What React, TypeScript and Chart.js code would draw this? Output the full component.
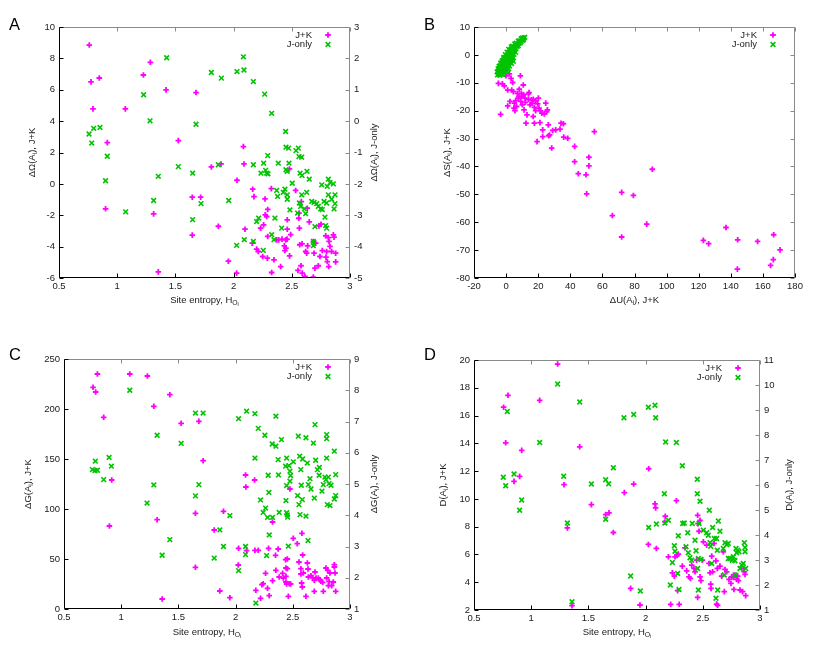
import { useEffect, useRef } from "react";
import { Chart, registerables } from "chart.js";
Chart.register(...registerables);

type P = [number, number];
type Part = [string, number];

const seriesNames = ["J+K", "J-only"];
const FONT = "'Liberation Sans', Arial, sans-serif";
const MAGENTA = "#ff00ff";
const GREEN = "#00c400";

// ---------- Panel A: ΔΩ vs site entropy ----------
const aJK: P[] = [
  [0.76, 8.85], [0.775, 6.5], [0.846, 6.75], [0.792, 4.78], [0.915, 2.63], [0.9, -1.59], [1.07, 4.78],
  [1.225, 6.94], [1.285, 7.75], [1.42, 5.99], [1.313, -1.91], [1.525, 2.76], [1.677, 5.82], [1.645, -0.85],
  [1.717, -0.85], [1.645, -3.27], [1.353, -5.61], [1.809, 1.08], [1.892, 1.27], [1.869, -2.7], [1.955, -4.93],
  [2.029, 0.23], [2.026, -5.69], [2.084, 2.38], [2.089, 1.27], [2.098, -2.89], [2.164, -0.34], [2.175, -0.81],
  [2.161, -3.78], [2.198, -4.16], [2.212, -4.31], [2.232, -2.82], [2.258, -2.61], [2.27, -0.96], [2.272, -1.97],
  [2.284, -2.08], [2.293, -1.63], [2.293, -3.35], [2.25, -4.63], [2.29, -4.73], [2.324, -0.3], [2.327, -5.65],
  [2.347, -4.84], [2.37, -3.57], [2.387, -3.57], [2.416, -3.52], [2.404, -5.27], [2.447, -3.57], [2.459, -3.52],
  [2.436, -3.95], [2.45, -4.1], [2.441, -4.25], [2.461, -2.89], [2.461, -2.29], [2.481, -4.59], [2.49, -3.23],
  [2.533, -0.42], [2.48, 0.95], [2.553, -5.52], [2.562, -1.87], [2.56, -2.19], [2.565, -2.82], [2.568, -3.88],
  [2.579, -5.22], [2.59, -5.69], [2.582, -1.13], [2.588, -3.82], [2.613, -5.9], [2.619, -4.31], [2.628, -4.42],
  [2.636, -3.95], [2.633, -1.55], [2.65, -2.42], [2.685, -3.67], [2.691, -4.42], [2.699, -5.37], [2.685, -5.94],
  [2.705, -3.78], [2.728, -5.22], [2.733, -2.68], [2.742, -4.63], [2.751, -2.57], [2.762, -4.25], [2.791, -3.31],
  [2.794, -4.67], [2.799, -4.31], [2.805, -4.95], [2.817, -5.27], [2.814, -3.42], [2.82, -3.67], [2.828, -3.99],
  [2.842, -4.31], [2.857, -3.25], [2.863, -3.4], [2.877, -4.42], [2.877, -4.97],
];
const aJ: P[] = [
  [0.758, -0.41], [0.781, -0.7], [0.798, -0.23], [0.852, -0.2], [0.9, -1.9], [0.915, -1.12], [1.073, -2.89],
  [1.227, 0.84], [1.282, 0.01], [1.313, -2.53], [1.353, -1.76], [1.425, 2.02], [1.525, -1.45], [1.648, -1.66],
  [1.648, -3.14], [1.677, -0.1], [1.72, -2.63], [1.809, 1.55], [1.869, -1.39], [1.895, 1.37], [1.958, -2.53],
  [2.029, 1.58], [2.026, -3.96], [2.084, 2.05], [2.089, 1.63], [2.092, -3.78], [2.17, 1.26], [2.17, -1.39],
  [2.17, -3.83], [2.198, -3.2], [2.215, -3.09], [2.235, -1.66], [2.267, 0.86], [2.258, -1.34], [2.255, -4.12],
  [2.275, -1.57], [2.284, -1.66], [2.293, -1.1], [2.296, -1.68], [2.327, 0.25], [2.327, -3.62], [2.347, -3.78],
  [2.355, -3.09], [2.37, -2.21], [2.378, -2.4], [2.384, -1.34], [2.413, -3.41], [2.427, -2.27], [2.441, -2.17],
  [2.447, -0.33], [2.45, -0.83], [2.45, -1.55], [2.461, -1.6], [2.461, -2.49], [2.473, -0.86], [2.476, -1.34],
  [2.461, -2.35], [2.484, -2.83], [2.504, -1.98], [2.536, -0.94], [2.556, -0.86], [2.562, -1.13], [2.571, -1.66],
  [2.585, -1.15], [2.55, -2.93], [2.565, -2.61], [2.585, -2.35], [2.576, -2.72], [2.588, -1.73], [2.608, -2.8],
  [2.619, -2.95], [2.628, -2.27], [2.63, -1.6], [2.65, -1.85], [2.671, -2.56], [2.691, -2.59], [2.699, -3.36],
  [2.685, -3.83], [2.685, -3.97], [2.714, -2.63], [2.728, -2.72], [2.748, -2.8], [2.757, -2.03], [2.762, -2.82],
  [2.777, -2.56], [2.785, -3.06], [2.791, -3.33], [2.799, -3.41], [2.805, -2.08], [2.814, -1.85], [2.814, -2.35],
  [2.828, -1.96], [2.842, -2.49], [2.857, -2.0], [2.871, -2.35], [2.863, -2.8], [2.871, -2.63], [2.799, -2.61],
];

// ---------- Panel B: ΔS vs ΔU ----------
const bJK: P[] = [
  [-4.8, -10.2], [-3.4, -21.3], [-2.3, -10.4], [-1.1, -11.1], [-0.1, -7.5], [1.0, -12.6], [2.0, -6.8], [3.1, -8.4],
  [1.0, -18.3], [2.4, -16.7], [3.5, -12.6], [4.1, -9.9], [4.5, -13.2], [4.9, -19.1], [5.5, -20.0], [5.1, -17.3],
  [6.0, -16.4], [7.0, -13.8], [7.6, -15.5], [8.2, -12.3], [8.9, -7.5], [9.1, -16.7], [9.5, -13.8], [9.7, -14.9],
  [10.1, -17.9], [10.7, -10.8], [10.9, -14.3], [11.2, -19.7], [11.8, -15.5], [12.4, -24.5], [13.0, -21.5],
  [13.9, -14.0], [14.3, -13.5], [14.9, -17.9], [15.7, -16.1], [16.3, -17.3], [16.9, -15.9], [16.9, -22.1],
  [17.6, -18.8], [17.6, -24.5], [18.4, -20.0], [19.3, -31.1], [19.7, -17.6], [20.1, -15.5], [20.5, -19.1],
  [21.1, -24.3], [21.5, -20.1], [22.2, -20.9], [22.8, -26.9], [22.8, -29.3], [23.8, -21.2], [24.7, -17.3],
  [25.3, -20.3], [25.7, -19.7], [26.3, -25.1], [26.5, -29.0], [27.1, -28.7], [28.4, -33.4], [29.0, -27.1],
  [30.9, -26.9], [33.6, -26.6], [34.2, -24.5], [35.7, -24.7], [35.9, -29.5], [38.4, -29.9], [42.7, -32.8],
  [42.7, -38.3], [45.0, -42.6], [49.8, -43.0], [50.2, -49.8], [51.6, -36.7], [51.6, -39.8], [55.0, -27.5],
  [66.2, -57.6], [72.0, -49.3], [72.0, -65.3], [79.3, -50.4], [87.6, -60.7], [91.1, -41.0], [122.9, -66.5],
  [126.2, -67.7], [137.0, -61.9], [144.3, -66.3], [144.1, -76.8], [156.7, -66.9], [164.8, -75.5], [166.5, -73.4],
  [166.7, -64.5], [170.7, -69.9], [6.5, -18.5], [12.0, -17.0], [14.0, -16.0], [18.5, -16.5], [8.0, -15.0],
];
const bJ: P[] = [
  [-5.4, -7.2], [-4.6, -7.0], [-3.8, -7.3], [-2.9, -6.9], [-1.8, -7.1],
  [-5.6, -6.1], [-4.9, -5.8], [-4.1, -6.3], [-3.3, -5.9], [-2.4, -6.2], [-1.5, -5.7], [-0.6, -6.0], [0.5, -5.9],
  [-5.0, -5.0], [-4.3, -4.8], [-3.6, -5.2], [-2.7, -4.9], [-1.9, -5.1], [-1.0, -4.7], [-0.2, -5.0], [0.8, -4.8], [1.6, -5.0],
  [-4.4, -4.1], [-3.7, -3.9], [-2.9, -4.2], [-2.1, -3.8], [-1.3, -4.0], [-0.5, -3.7], [0.4, -4.1], [1.2, -3.9], [2.1, -4.0],
  [-3.4, -3.0], [-2.6, -2.8], [-1.8, -3.2], [-1.0, -2.9], [-0.2, -3.1], [0.6, -2.7], [1.5, -3.0], [2.4, -2.8], [3.4, -3.1],
  [-2.5, -2.1], [-1.6, -1.8], [-0.7, -2.2], [0.2, -1.9], [1.0, -2.0], [1.9, -1.7], [2.8, -2.1], [3.8, -1.9], [4.5, -2.3],
  [-1.6, -1.0], [-0.8, -0.8], [0.0, -1.2], [0.9, -0.9], [1.7, -1.1], [2.6, -0.7], [3.5, -1.0], [4.4, -0.9],
  [-0.5, 0.1], [0.4, -0.2], [1.3, 0.2], [2.2, -0.1], [3.1, 0.3], [4.0, 0.0], [4.9, 0.2],
  [0.6, 1.0], [1.5, 0.8], [2.4, 1.2], [3.3, 0.9], [4.2, 1.1], [5.1, 1.3], [5.9, 0.9],
  [1.6, 2.0], [2.5, 1.8], [3.4, 2.2], [4.3, 1.9], [5.2, 2.1], [6.1, 2.3],
  [3.2, 2.9], [4.1, 3.1], [5.0, 2.8], [5.9, 3.2], [6.8, 3.0], [7.6, 3.3],
  [5.4, 3.9], [6.3, 4.2], [7.1, 3.8], [8.0, 4.1], [8.8, 4.3],
  [7.6, 4.9], [8.5, 5.1], [9.3, 4.8], [10.1, 5.2], [10.8, 5.4],
  [9.4, 5.8], [10.2, 6.1], [11.0, 6.0], [11.6, 6.3],
];

// ---------- Panel C: ΔG vs site entropy ----------
const cJK: P[] = [
  [0.754, 221.7], [0.777, 217], [0.792, 235], [0.847, 191.7], [0.917, 129], [0.897, 83], [1.075, 235],
  [1.229, 233], [1.285, 202.7], [1.314, 89.3], [1.425, 214.3], [1.358, 10], [1.524, 185.7], [1.649, 95.7],
  [1.649, 41.7], [1.679, 187.7], [1.716, 148.3], [1.813, 79], [1.862, 18], [1.894, 97.7], [1.95, 11.3],
  [2.026, 60.7], [2.023, 44], [2.087, 134], [2.09, 122], [2.096, 58.3], [2.166, 129], [2.169, 58.7],
  [2.198, 58.7], [2.177, 18.7], [2.218, 10.7], [2.23, 24.3], [2.241, 25.3], [2.262, 35.7], [2.279, 20.7],
  [2.288, 60.7], [2.294, 13.3], [2.323, 87], [2.323, 28.3], [2.349, 53.7], [2.352, 38.7], [2.372, 60],
  [2.381, 32], [2.411, 35.7], [2.417, 31], [2.437, 49.3], [2.44, 41], [2.44, 32.7], [2.44, 27], [2.452, 50],
  [2.452, 40.3], [2.446, 25], [2.461, 12.7], [2.469, 25.3], [2.475, 120], [2.481, 25], [2.504, 70.7],
  [2.539, 65.3], [2.554, 47], [2.571, 40.3], [2.571, 35], [2.577, 26], [2.583, 22], [2.58, 75.7], [2.586, 54],
  [2.592, 36], [2.615, 12.7], [2.627, 46], [2.633, 40], [2.636, 32], [2.659, 33.3], [2.673, 31.3], [2.688, 28.7],
  [2.688, 17.7], [2.694, 37], [2.703, 31], [2.723, 31], [2.737, 29.3], [2.746, 27.7], [2.761, 26.7], [2.767, 17.7],
  [2.79, 41], [2.796, 31], [2.805, 38.7], [2.811, 23.3], [2.817, 27.3], [2.825, 36], [2.84, 23.3], [2.854, 27],
  [2.863, 44.3], [2.863, 42], [2.869, 36], [2.875, 17.7],
];
const cJ: P[] = [
  [0.748, 5.46], [0.771, 5.43], [0.792, 5.44], [0.774, 5.73], [0.847, 5.14], [0.894, 5.85], [0.914, 5.57],
  [1.075, 8.0], [1.226, 4.39], [1.285, 4.97], [1.314, 6.56], [1.358, 2.72], [1.425, 3.22], [1.524, 6.3],
  [1.649, 7.27], [1.649, 4.62], [1.679, 4.98], [1.716, 7.27], [1.813, 2.63], [1.862, 3.53], [1.894, 3.0],
  [1.95, 3.99], [2.026, 7.09], [2.026, 2.23], [2.096, 7.33], [2.087, 3.0], [2.087, 2.74], [2.169, 7.25],
  [2.169, 5.83], [2.177, 1.19], [2.198, 6.78], [2.218, 4.49], [2.241, 4.09], [2.256, 6.56], [2.262, 4.23],
  [2.279, 3.93], [2.285, 5.28], [2.291, 4.73], [2.294, 3.37], [2.271, 2.71], [2.32, 6.28], [2.323, 3.93],
  [2.352, 7.17], [2.352, 6.21], [2.372, 5.78], [2.375, 5.29], [2.381, 4.09], [2.401, 6.42], [2.446, 5.83],
  [2.437, 5.57], [2.446, 4.95], [2.44, 4.47], [2.446, 4.08], [2.452, 4.01], [2.455, 3.94], [2.461, 3.01],
  [2.466, 5.59], [2.475, 5.41], [2.481, 5.27], [2.475, 5.09], [2.504, 5.71], [2.542, 4.63], [2.548, 6.53],
  [2.554, 4.34], [2.563, 4.02], [2.56, 5.89], [2.57, 5.46], [2.574, 4.96], [2.583, 4.5], [2.586, 5.8],
  [2.615, 3.97], [2.615, 6.48], [2.627, 5.67], [2.636, 4.98], [2.633, 3.19], [2.65, 5.17], [2.659, 4.84],
  [2.68, 6.31], [2.688, 4.55], [2.694, 6.9], [2.7, 5.76], [2.715, 5.46], [2.73, 5.28], [2.732, 5.53],
  [2.755, 4.77], [2.767, 4.98], [2.781, 5.22], [2.79, 5.14], [2.796, 6.58], [2.796, 6.45], [2.796, 5.83],
  [2.802, 4.34], [2.811, 5.22], [2.817, 5.01], [2.825, 4.31], [2.834, 4.96], [2.863, 6.05], [2.863, 4.52],
  [2.875, 5.3], [2.875, 4.63],
];

// ---------- Panel D: D vs site entropy ----------
const dJK: P[] = [
  [0.759, 16.6], [0.797, 17.46], [0.777, 14.04], [0.85, 11.26], [0.899, 11.62], [0.917, 13.49], [1.074, 17.1],
  [1.231, 19.71], [1.287, 11.02], [1.316, 7.91], [1.357, 2.31], [1.424, 13.75], [1.526, 9.59], [1.651, 8.87],
  [1.68, 8.99], [1.718, 7.58], [1.814, 10.45], [1.869, 3.56], [1.896, 11.07], [1.951, 2.36], [2.027, 12.17],
  [2.024, 6.72], [2.082, 9.64], [2.088, 9.35], [2.094, 6.43], [2.172, 8.75], [2.169, 8.34], [2.199, 5.83],
  [2.219, 2.41], [2.269, 9.87], [2.234, 4.68], [2.251, 4.44], [2.257, 5.83], [2.274, 5.93], [2.286, 6.02],
  [2.28, 3.39], [2.294, 2.41], [2.321, 5.16], [2.344, 6.48], [2.359, 4.82], [2.379, 4.39], [2.391, 4.27],
  [2.403, 5.23], [2.423, 4.99], [2.432, 4.75], [2.446, 5.59], [2.455, 8.82], [2.458, 8.22], [2.476, 8.46],
  [2.467, 7.67], [2.476, 4.39], [2.484, 4.11], [2.455, 2.91], [2.496, 5.59], [2.505, 6.91], [2.534, 6.67],
  [2.554, 5.35], [2.563, 4.68], [2.569, 3.87], [2.572, 3.56], [2.578, 5.88], [2.586, 4.75], [2.598, 6.79],
  [2.615, 5.54], [2.621, 2.43], [2.63, 2.34], [2.627, 4.99], [2.65, 5.16], [2.665, 4.44], [2.679, 6.19],
  [2.688, 3.32], [2.694, 4.92], [2.709, 4.75], [2.729, 4.2], [2.746, 3.91], [2.752, 4.39], [2.767, 4.35],
  [2.772, 3.48], [2.781, 4.51], [2.796, 4.2], [2.805, 4.44], [2.811, 4.11], [2.825, 3.44], [2.848, 3.32],
  [2.863, 4.75], [2.869, 4.56], [2.875, 3.03], [2.854, 5.0],
];
const dJ: P[] = [
  [0.756, 6.31], [0.777, 5.97], [0.791, 8.94], [0.85, 6.44], [0.917, 5.4], [0.899, 4.99], [1.074, 7.7],
  [1.231, 10.04], [1.284, 6.35], [1.316, 4.48], [1.357, 1.33], [1.424, 9.32], [1.526, 6.04], [1.651, 6.21],
  [1.651, 4.63], [1.677, 6.05], [1.718, 6.69], [1.811, 8.69], [1.869, 2.36], [1.896, 8.82], [1.954, 1.76],
  [2.024, 9.11], [2.027, 4.3], [2.082, 9.19], [2.088, 8.69], [2.094, 4.44], [2.164, 5.65], [2.169, 4.48],
  [2.175, 7.72], [2.199, 4.59], [2.216, 2.0], [2.234, 2.9], [2.251, 3.57], [2.257, 3.35], [2.269, 7.7],
  [2.286, 3.97], [2.28, 2.46], [2.292, 1.82], [2.321, 6.77], [2.324, 4.46], [2.338, 4.48], [2.368, 4.09],
  [2.353, 3.53], [2.373, 3.29], [2.388, 3.09], [2.403, 2.99], [2.408, 4.46], [2.432, 3.79], [2.441, 3.37],
  [2.452, 6.23], [2.452, 5.65], [2.467, 4.46], [2.461, 3.06], [2.455, 2.66], [2.461, 1.8], [2.476, 5.35],
  [2.484, 3.02], [2.505, 4.19], [2.534, 4.09], [2.548, 3.99], [2.557, 4.99], [2.563, 3.69], [2.569, 3.55],
  [2.578, 2.86], [2.586, 4.3], [2.601, 3.86], [2.621, 3.86], [2.627, 3.39], [2.636, 4.56], [2.615, 1.47],
  [2.63, 1.8], [2.65, 4.15], [2.679, 3.46], [2.688, 2.4], [2.694, 3.69], [2.709, 3.62], [2.723, 3.66],
  [2.723, 3.06], [2.738, 3.06], [2.758, 2.99], [2.767, 3.13], [2.781, 2.97], [2.79, 3.46], [2.796, 3.29],
  [2.805, 3.39], [2.816, 3.33], [2.825, 2.66], [2.84, 2.8], [2.854, 2.86], [2.863, 3.69], [2.869, 3.5],
  [2.869, 3.33], [2.875, 2.66], [2.781, 2.4],
];

// ---------- axis ranges / tick steps ----------
const entropyRange = { min: 0.5, max: 3, step: 0.5 };
const aLeft = { min: -6, max: 10, step: 2 };
const aRight = { min: -5, max: 3, step: 1 };
const bX = { min: -20, max: 180, step: 20 };
const bY = { min: -80, max: 10, step: 10 };
const cLeft = { min: 0, max: 250, step: 50 };
const cRight = { min: 1, max: 9, step: 1 };
const dLeft = { min: 2, max: 20, step: 2 };
const dRight = { min: 1, max: 11, step: 1 };

const entropyTitle: Part[] = [["Site entropy, H", 0], ["O", 1], ["i", 2]];

type Range = { min: number; max: number; step: number };
interface PanelCfg {
  letter: string;
  left: number; top: number; w: number; h: number;
  area: { l: number; r: number; t: number; b: number };
  x: Range; y: Range; y2?: Range;
  xTitle: Part[]; yTitle: Part[]; y2Title?: Part[];
  off: { y: number; y2: number; x: number };
  jk: P[]; j: P[];
}

const panels: PanelCfg[] = [
  {
    letter: "A", left: 0, top: 0, w: 415, h: 330,
    area: { l: 59, r: 350, t: 27, b: 278 },
    x: entropyRange, y: aLeft, y2: aRight,
    xTitle: entropyTitle,
    yTitle: [["ΔΩ(A", 0], ["i", 1], ["), J+K", 0]],
    y2Title: [["ΔΩ(A", 0], ["i", 1], ["), J-only", 0]],
    off: { y: 27, y2: 24, x: 22 },
    jk: aJK, j: aJ,
  },
  {
    letter: "B", left: 415, top: 0, w: 415, h: 330,
    area: { l: 59, r: 380, t: 27, b: 278 },
    x: bX, y: bY,
    xTitle: [["ΔU(A", 0], ["i", 1], ["), J+K", 0]],
    yTitle: [["ΔS(A", 0], ["i", 1], ["), J+K", 0]],
    off: { y: 27, y2: 0, x: 22 },
    jk: bJK, j: bJ,
  },
  {
    letter: "C", left: 0, top: 330, w: 415, h: 334,
    area: { l: 64, r: 350, t: 29, b: 279 },
    x: entropyRange, y: cLeft, y2: cRight,
    xTitle: entropyTitle,
    yTitle: [["ΔG(A", 0], ["i", 1], ["), J+K", 0]],
    y2Title: [["ΔG(A", 0], ["i", 1], ["), J-only", 0]],
    off: { y: 36, y2: 24, x: 23 },
    jk: cJK, j: cJ,
  },
  {
    letter: "D", left: 415, top: 330, w: 415, h: 334,
    area: { l: 59, r: 345, t: 30, b: 280 },
    x: entropyRange, y: dLeft, y2: dRight,
    xTitle: entropyTitle,
    yTitle: [["D(A", 0], ["i", 1], ["), J+K", 0]],
    y2Title: [["D(A", 0], ["i", 1], ["), J-only", 0]],
    off: { y: 31, y2: 29, x: 22 },
    jk: dJK, j: dJ,
  },
];

const FS = 9.5;

function partFont(level: number) {
  const size = level === 0 ? FS : level === 1 ? FS * 0.72 : FS * 0.58;
  return { size, font: `${size}px ${FONT}`, dy: level === 0 ? 0 : level === 1 ? FS * 0.3 : FS * 0.5 };
}

function drawRich(ctx: CanvasRenderingContext2D, parts: Part[], cx: number, cy: number, rot: number) {
  ctx.save();
  ctx.translate(cx, cy);
  ctx.rotate(rot);
  ctx.textBaseline = "middle";
  ctx.textAlign = "left";
  let total = 0;
  const widths = parts.map(([t, lv]) => {
    ctx.font = partFont(lv).font;
    const w = ctx.measureText(t).width;
    total += w;
    return w;
  });
  let x = -total / 2;
  parts.forEach(([t, lv], i) => {
    const f = partFont(lv);
    ctx.font = f.font;
    ctx.fillText(t, x, f.dy);
    x += widths[i];
  });
  ctx.restore();
}

const decor = {
  id: "decor",
  afterDraw(chart: any) {
    const cfg: PanelCfg = chart.options.plugins.decor.cfg;
    const { ctx, chartArea: ca } = chart;
    const L = Math.round(ca.left) + 0.5, R = Math.round(ca.right) - 0.5;
    const T = Math.round(ca.top) + 0.5, B = Math.round(ca.bottom) - 0.5;
    const TL = 4;
    ctx.save();
    ctx.lineWidth = 1;
    // gray top and right borders
    ctx.strokeStyle = "#8a8a8a";
    ctx.beginPath();
    ctx.moveTo(L, T); ctx.lineTo(R, T); ctx.lineTo(R, B);
    ctx.stroke();
    // mirrored ticks
    const xs = chart.scales.x;
    ctx.beginPath();
    xs.ticks.forEach((t: any) => {
      const px = Math.round(xs.getPixelForValue(t.value)) + 0.5;
      ctx.moveTo(px, T); ctx.lineTo(px, T + TL);
    });
    const rs = chart.scales.y2 || chart.scales.y;
    rs.ticks.forEach((t: any) => {
      const py = Math.round(rs.getPixelForValue(t.value)) + 0.5;
      ctx.moveTo(R, py); ctx.lineTo(R - TL, py);
    });
    ctx.stroke();
    // black left and bottom borders
    ctx.strokeStyle = "#000";
    ctx.beginPath();
    ctx.moveTo(L, T); ctx.lineTo(L, B); ctx.lineTo(R, B);
    xs.ticks.forEach((t: any) => {
      const px = Math.round(xs.getPixelForValue(t.value)) + 0.5;
      ctx.moveTo(px, B); ctx.lineTo(px, B - TL);
    });
    const ys = chart.scales.y;
    ys.ticks.forEach((t: any) => {
      const py = Math.round(ys.getPixelForValue(t.value)) + 0.5;
      ctx.moveTo(L, py); ctx.lineTo(L + TL, py);
    });
    ctx.stroke();

    // titles
    ctx.fillStyle = "#1a1a1a";
    const midY = (ca.top + ca.bottom) / 2;
    const midX = (ca.left + ca.right) / 2;
    drawRich(ctx, cfg.xTitle, midX, ca.bottom + cfg.off.x, 0);
    drawRich(ctx, cfg.yTitle, ca.left - cfg.off.y, midY, -Math.PI / 2);
    if (cfg.y2Title) drawRich(ctx, cfg.y2Title, ca.right + cfg.off.y2, midY, -Math.PI / 2);

    // legend
    ctx.font = `${FS}px ${FONT}`;
    ctx.textAlign = "right";
    ctx.textBaseline = "middle";
    chart.data.datasets.forEach((ds: any, i: number) => {
      const y = ca.top + 8 + i * 9.5;
      ctx.fillStyle = "#1a1a1a";
      ctx.fillText(ds.label, ca.right - 38, y);
      const mx = ca.right - 22;
      ctx.strokeStyle = ds.borderColor;
      ctx.lineWidth = ds.borderWidth;
      ctx.beginPath();
      if (ds.pointStyle === "cross") {
        const r = ds.pointRadius;
        ctx.moveTo(mx - r, y); ctx.lineTo(mx + r, y);
        ctx.moveTo(mx, y - r); ctx.lineTo(mx, y + r);
      } else {
        const r = ds.pointRadius * Math.SQRT1_2;
        ctx.moveTo(mx - r, y - r); ctx.lineTo(mx + r, y + r);
        ctx.moveTo(mx - r, y + r); ctx.lineTo(mx + r, y - r);
      }
      ctx.stroke();
    });

    // panel letter
    ctx.fillStyle = "#000";
    ctx.textAlign = "left";
    ctx.textBaseline = "alphabetic";
    ctx.font = `16.5px ${FONT}`;
    ctx.fillText(cfg.letter, 9, 30);
    ctx.restore();
  },
};

function axis(r: Range, position: string, size: (s: any) => void) {
  return {
    type: "linear",
    position,
    min: r.min,
    max: r.max,
    ticks: {
      stepSize: r.step,
      color: "#1a1a1a",
      font: { family: FONT, size: FS },
      padding: position === "bottom" ? 3 : 4,
      maxRotation: 0,
      autoSkip: false,
      callback: (v: number) => String(Math.round(v * 1000) / 1000),
    },
    grid: { display: false, drawTicks: false },
    border: { display: false },
    afterFit: size,
  };
}

function Panel({ cfg }: { cfg: PanelCfg }) {
  const ref = useRef<HTMLCanvasElement>(null);
  useEffect(() => {
    const canvas = ref.current;
    if (!canvas) return;
    const scales: any = {
      x: axis(cfg.x, "bottom", (s: any) => { s.height = cfg.h - cfg.area.b; }),
      y: axis(cfg.y, "left", (s: any) => { s.width = cfg.area.l; }),
    };
    if (cfg.y2) scales.y2 = axis(cfg.y2, "right", (s: any) => { s.width = cfg.w - cfg.area.r; });
    const chart = new Chart(canvas, {
      type: "scatter",
      data: {
        datasets: [
          {
            label: seriesNames[0],
            data: cfg.jk.map(([x, y]) => ({ x, y })),
            yAxisID: "y",
            pointStyle: "cross",
            pointRadius: 2.8,
            borderWidth: 1.8,
            borderColor: MAGENTA,
            backgroundColor: MAGENTA,
            order: 1,
          },
          {
            label: seriesNames[1],
            data: cfg.j.map(([x, y]) => ({ x, y })),
            yAxisID: cfg.y2 ? "y2" : "y",
            pointStyle: "crossRot",
            pointRadius: 3.3,
            borderWidth: 1.6,
            borderColor: GREEN,
            backgroundColor: GREEN,
            order: 0,
          },
        ],
      } as any,
      options: {
        responsive: false,
        animation: false,
        events: [],
        layout: { padding: { top: cfg.area.t, left: 0, bottom: 0, right: cfg.y2 ? 0 : cfg.w - cfg.area.r } },
        scales,
        plugins: { legend: { display: false }, tooltip: { enabled: false }, decor: { cfg } } as any,
      } as any,
      plugins: [decor],
    });
    return () => chart.destroy();
  }, [cfg]);
  return (
    <canvas
      ref={ref}
      width={cfg.w}
      height={cfg.h}
      style={{ position: "absolute", left: cfg.left, top: cfg.top, width: cfg.w, height: cfg.h }}
    />
  );
}

export default function App() {
  return (
    <div style={{ position: "absolute", left: 0, top: 0, width: 830, height: 664, background: "#fff" }}>
      {panels.map((p) => (
        <Panel key={p.letter} cfg={p} />
      ))}
    </div>
  );
}
